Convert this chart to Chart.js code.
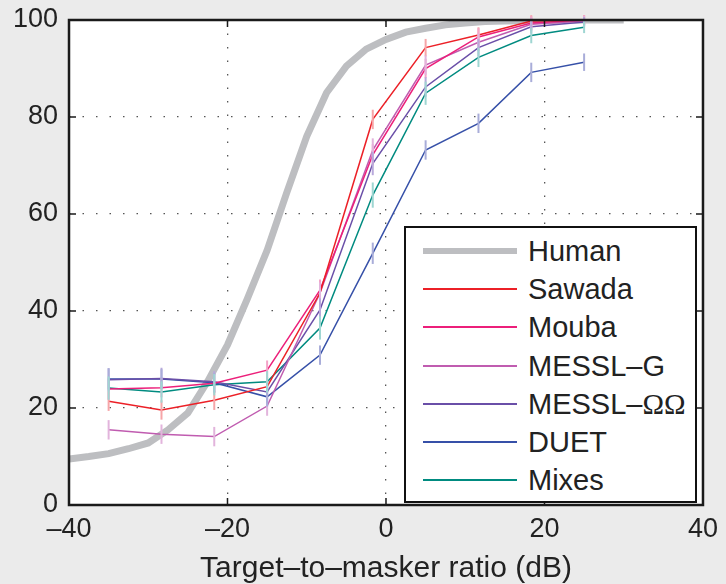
<!DOCTYPE html>
<html>
<head>
<meta charset="utf-8">
<script src="https://cdn.jsdelivr.net/npm/chart.js@4/dist/chart.umd.min.js"></script>
<style>
  body { margin: 0; background: #ebebeb; }
  #wrap { position: relative; width: 726px; height: 584px; }
  #legend {
    position: absolute; left: 404px; top: 226px; width: 289px; height: 273px;
    border: 2px solid #111; background: #fff; box-sizing: content-box;
    font-family: 'Liberation Sans', Arial, sans-serif; font-size: 29px; color: #222;
  }
  .item { position: absolute; left: 0; height: 38px; }
  .swatch { position: absolute; left: 17px; width: 94px; }
  .label { position: absolute; left: 122px; white-space: nowrap; line-height: 38px; }
  .omega { font-family: 'Liberation Serif', 'DejaVu Serif', serif; }
</style>
</head>
<body>
<div id="wrap">
  <canvas id="myChart" width="726" height="584"></canvas>
  <div id="legend"></div>
</div>
<script>
// target-to-masker ratios (dB) of the measured conditions
const tmr = [-35, -28.33, -21.67, -15, -8.33, -1.67, 5, 11.67, 18.33, 25];

const sawada  = [21.4, 19.6, 21.6, 24.4, 43.7, 79.5, 94.3, 96.9, 99.8, 100];
const mouba   = [23.9, 24.2, 25.1, 27.8, 44.3, 72.2, 90.0, 96.5, 99.4, 100];
const messlG  = [15.5, 14.6, 14.1, 20.4, 43.7, 73.2, 90.7, 95.4, 99.1, 99.8];
const messlOO = [25.8, 26.1, 25.4, 23.3, 40.2, 70.4, 86.2, 94.3, 98.6, 99.6];
const duet    = [26.0, 26.0, 25.2, 22.3, 30.9, 51.9, 73.2, 78.7, 89.2, 91.3];
const mixes   = [24.1, 23.3, 24.8, 25.4, 36.5, 63.9, 84.9, 92.3, 96.8, 98.5];

// half length of the error bars
const sawadaErr  = [2.0, 2.0, 2.0, 2.0, 2.2, 2.0, 1.8, 1.6, 1.2, 1.0];
const moubaErr   = [2.2, 2.0, 2.0, 2.0, 2.2, 2.2, 2.0, 1.8, 1.4, 1.0];
const messlGErr  = [2.0, 2.0, 2.0, 2.0, 2.2, 2.4, 2.0, 1.8, 1.4, 1.0];
const messlOOErr = [2.4, 2.2, 2.2, 2.2, 2.4, 2.4, 2.0, 1.8, 1.4, 1.0];
const duetErr    = [2.2, 2.0, 2.0, 2.0, 2.0, 2.2, 2.0, 2.0, 2.0, 1.8];
const mixesErr   = [2.4, 2.2, 2.2, 2.2, 2.4, 2.6, 2.4, 2.0, 1.6, 1.2];

// human listeners (smooth curve)
const humanX = [-40, -37.5, -35, -32.5, -30, -27.5, -25, -22.5, -20, -17.5, -15, -12.5, -10, -7.5, -5, -2.5, 0, 2.5, 5, 7.5, 10, 12.5, 15, 20, 25, 30];
const human  = [9.5, 10.0, 10.6, 11.6, 12.8, 15.5, 19.0, 25.5, 33.0, 42.5, 52.5, 64.5, 76.0, 85.0, 90.5, 94.0, 96.0, 97.5, 98.3, 99.0, 99.4, 99.7, 99.8, 99.9, 100, 100];

const xTicks = [-40, -20, 0, 20, 40];
const yTicks = [0, 20, 40, 60, 80, 100];

const pts = (xs, ys) => xs.map((x, i) => ({ x: x, y: ys[i] }));
const dash = v => (v < 0 ? '\u2013' + Math.abs(v) : String(v));
const FONT = "'Liberation Sans', Arial, sans-serif";

function series(label, values, err, color, errColor) {
  return {
    label: label,
    data: pts(tmr, values),
    err: err,
    errColor: errColor,
    borderColor: color,
    backgroundColor: color,
    borderWidth: 1.5,
    pointRadius: 0,
    tension: 0,
    order: 0
  };
}

const datasets = [
  {
    label: 'Human',
    data: pts(humanX, human),
    borderColor: '#bdbec1',
    backgroundColor: '#bdbec1',
    borderWidth: 7,
    pointRadius: 0,
    tension: 0,
    order: 1
  },
  series('Sawada', sawada, sawadaErr, '#ec2027', '#f6a5a8'),
  series('Mouba', mouba, moubaErr, '#ec1f7a', '#f3a3c8'),
  series('MESSL\u2013G', messlG, messlGErr, '#c05cb0', '#e2b4dc'),
  series('MESSL\u2013\u03A9\u03A9', messlOO, messlOOErr, '#6a4fa8', '#b8a9db'),
  series('DUET', duet, duetErr, '#3650a8', '#a9add9'),
  series('Mixes', mixes, mixesErr, '#008b80', '#9fd6d2')
];

const plotBg = {
  id: 'plotBg',
  beforeDraw(chart) {
    const a = chart.chartArea, ctx = chart.ctx;
    ctx.save();
    ctx.fillStyle = '#fff';
    ctx.fillRect(a.left, a.top, a.right - a.left, a.bottom - a.top);
    ctx.restore();
  }
};

const errorBars = {
  id: 'errorBars',
  afterDatasetsDraw(chart) {
    const ctx = chart.ctx, xs = chart.scales.x, ys = chart.scales.y;
    ctx.save();
    ctx.lineWidth = 2;
    chart.data.datasets.forEach(ds => {
      if (!ds.err) return;
      ctx.strokeStyle = ds.errColor;
      ds.data.forEach((p, i) => {
        const px = xs.getPixelForValue(p.x);
        ctx.beginPath();
        ctx.moveTo(px, ys.getPixelForValue(p.y - ds.err[i]));
        ctx.lineTo(px, ys.getPixelForValue(p.y + ds.err[i]));
        ctx.stroke();
      });
    });
    ctx.restore();
  }
};

// black box round the plot with inward tick marks, like matlab
const frame = {
  id: 'frame',
  afterDraw(chart) {
    const a = chart.chartArea, ctx = chart.ctx, xs = chart.scales.x, ys = chart.scales.y;
    ctx.save();
    ctx.strokeStyle = '#1a1a1a';
    ctx.lineWidth = 1.5;
    xTicks.forEach(t => {
      const px = xs.getPixelForValue(t);
      ctx.beginPath();
      ctx.moveTo(px, a.bottom); ctx.lineTo(px, a.bottom - 7);
      ctx.moveTo(px, a.top); ctx.lineTo(px, a.top + 7);
      ctx.stroke();
    });
    yTicks.forEach(t => {
      const py = ys.getPixelForValue(t);
      ctx.beginPath();
      ctx.moveTo(a.left, py); ctx.lineTo(a.left + 7, py);
      ctx.moveTo(a.right, py); ctx.lineTo(a.right - 7, py);
      ctx.stroke();
    });
    ctx.lineWidth = 2.5;
    ctx.strokeRect(a.left, a.top, a.right - a.left, a.bottom - a.top);
    ctx.restore();
  }
};

const gridStyle = { color: '#555', lineWidth: 1.3, drawTicks: false };

let myChart = new Chart(document.getElementById('myChart'), {
  type: 'line',
  data: { datasets: datasets },
  plugins: [plotBg, errorBars, frame],
  options: {
    responsive: false,
    animation: false,
    devicePixelRatio: 1,
    layout: { padding: { left: 0, right: 22, top: 20, bottom: 0 } },
    plugins: { legend: { display: false }, tooltip: { enabled: false } },
    scales: {
      x: {
        type: 'linear',
        min: -40, max: 40,
        afterBuildTicks: s => { s.ticks = xTicks.map(v => ({ value: v })); },
        afterFit: s => { s.height = 79; },
        grid: gridStyle,
        border: { display: false, dash: [1.5, 12] },
        ticks: { color: '#222', padding: 8, font: { family: FONT, size: 27 }, callback: dash, maxRotation: 0 },
        title: {
          display: true,
          text: 'Target\u2013to\u2013masker ratio (dB)',
          color: '#222',
          font: { family: FONT, size: 30 },
          padding: { top: 0, bottom: -3 }
        }
      },
      y: {
        min: 0, max: 100,
        afterBuildTicks: s => { s.ticks = yTicks.map(v => ({ value: v })); },
        afterFit: s => { s.width = 69; s.paddingTop = 8; s.paddingBottom = 8; },
        grid: gridStyle,
        border: { display: false, dash: [1.5, 12] },
        ticks: { color: '#222', padding: 11, font: { family: FONT, size: 27 }, callback: dash }
      }
    }
  }
});

// legend box inside the plot
const legend = document.getElementById('legend');
datasets.forEach((ds, i) => {
  const item = document.createElement('div');
  item.className = 'item';
  item.style.top = (4 + i * 38.2) + 'px';
  const sw = document.createElement('div');
  sw.className = 'swatch';
  const h = ds.label === 'Human' ? 6 : 2;
  sw.style.height = h + 'px';
  sw.style.top = (19 - h / 2) + 'px';
  sw.style.background = ds.borderColor;
  const lb = document.createElement('div');
  lb.className = 'label';
  const k = ds.label.indexOf('\u03A9');
  if (k >= 0) {
    lb.appendChild(document.createTextNode(ds.label.slice(0, k)));
    const om = document.createElement('span');
    om.className = 'omega';
    om.textContent = ds.label.slice(k);
    lb.appendChild(om);
  } else {
    lb.textContent = ds.label;
  }
  item.appendChild(sw);
  item.appendChild(lb);
  legend.appendChild(item);
});
</script>
</body>
</html>
